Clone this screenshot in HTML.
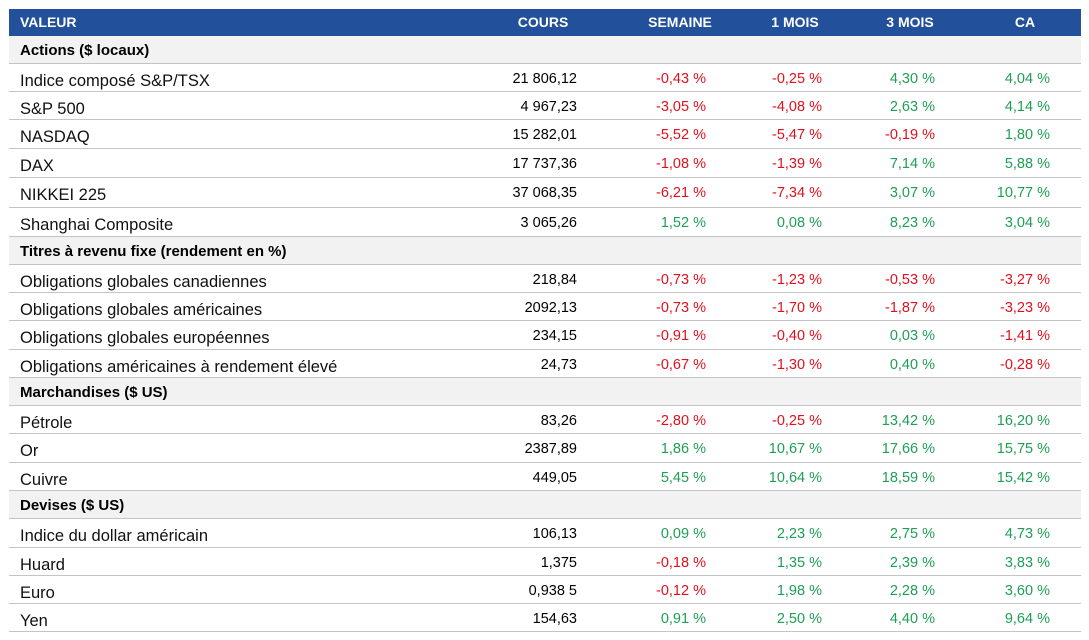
<!DOCTYPE html>
<html><head><meta charset="utf-8"><style>
body{margin:0;width:1089px;height:640px;background:#fff;position:relative;overflow:hidden;font-family:"Liberation Sans",Arial,sans-serif}
.r{position:absolute;left:9px;width:1072px;border-bottom:1px solid #c4c4c4;box-sizing:border-box}
.h{background:#22509a;color:#fff;font-weight:bold;font-size:14px;border:none}
.s{background:#f2f2f2;font-weight:bold;font-size:15px;color:#000}
.r span{position:absolute;white-space:nowrap}
.l{left:11px}
.n{font-size:14.5px}
.c1{right:504px}.c2{right:375px}.c3{right:259px}.c4{right:146px}.c5{right:31px}
.hc{transform:translateX(-50%)}
.g{color:#1f9e55}.d{color:#e2101e}
.lab{font-size:16.5px;color:#111}
</style></head><body>
<div class="r h" style="top:9px;height:27px"><span class="l" style="top:5px">VALEUR</span><span class="hc" style="left:534px;top:5px">COURS</span><span class="hc" style="left:671px;top:5px">SEMAINE</span><span class="hc" style="left:786px;top:5px">1 MOIS</span><span class="hc" style="left:901px;top:5px">3 MOIS</span><span class="hc" style="left:1016px;top:5px">CA</span></div>
<div id="rows"></div>
<script>
var tops=[36,64,92,120,149,178,208,237,265,293,321,350,378,406,434,463,491,519,548,576,604,632];
var data=[
["S","Actions ($ locaux)"],
["Indice composé S&P/TSX","21 806,12","-0,43 %","-0,25 %","4,30 %","4,04 %"],
["S&P 500","4 967,23","-3,05 %","-4,08 %","2,63 %","4,14 %"],
["NASDAQ","15 282,01","-5,52 %","-5,47 %","-0,19 %","1,80 %"],
["DAX","17 737,36","-1,08 %","-1,39 %","7,14 %","5,88 %"],
["NIKKEI 225","37 068,35","-6,21 %","-7,34 %","3,07 %","10,77 %"],
["Shanghai Composite","3 065,26","1,52 %","0,08 %","8,23 %","3,04 %"],
["S","Titres à revenu fixe (rendement en %)"],
["Obligations globales canadiennes","218,84","-0,73 %","-1,23 %","-0,53 %","-3,27 %"],
["Obligations globales américaines","2092,13","-0,73 %","-1,70 %","-1,87 %","-3,23 %"],
["Obligations globales européennes","234,15","-0,91 %","-0,40 %","0,03 %","-1,41 %"],
["Obligations américaines à rendement élevé","24,73","-0,67 %","-1,30 %","0,40 %","-0,28 %"],
["S","Marchandises ($ US)"],
["Pétrole","83,26","-2,80 %","-0,25 %","13,42 %","16,20 %"],
["Or","2387,89","1,86 %","10,67 %","17,66 %","15,75 %"],
["Cuivre","449,05","5,45 %","10,64 %","18,59 %","15,42 %"],
["S","Devises ($ US)"],
["Indice du dollar américain","106,13","0,09 %","2,23 %","2,75 %","4,73 %"],
["Huard","1,375","-0,18 %","1,35 %","2,39 %","3,83 %"],
["Euro","0,938 5","-0,12 %","1,98 %","2,28 %","3,60 %"],
["Yen","154,63","0,91 %","2,50 %","4,40 %","9,64 %"]];
var h="";
function esc(s){return s.replace(/&/g,"&amp;")}
data.forEach(function(d,i){
 var t=tops[i],ht=tops[i+1]-t;
 if(d[0]=="S"){h+='<div class="r s" style="top:'+t+'px;height:'+ht+'px"><span class="l" style="top:6px">'+esc(d[1])+'</span></div>';}
 else{
  h+='<div class="r" style="top:'+t+'px;height:'+ht+'px"><span class="l lab" style="top:8px">'+esc(d[0])+'</span><span class="n c1" style="top:7px">'+d[1]+'</span>';
  for(var k=2;k<6;k++){h+='<span class="n c'+k+' '+(d[k][0]=="-"?"d":"g")+'" style="top:7px">'+d[k]+'</span>';}
  h+='</div>';
 }
});
document.getElementById("rows").innerHTML=h;
</script>
</body></html>
